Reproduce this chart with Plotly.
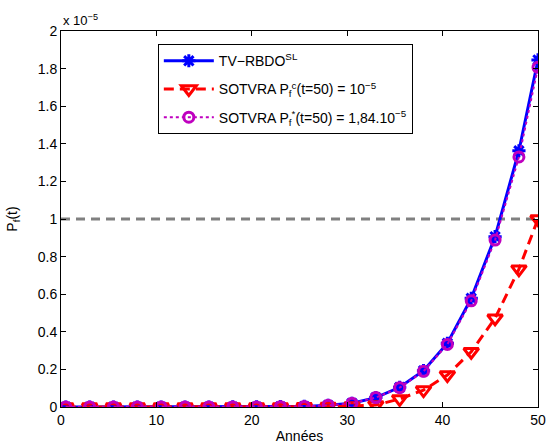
import plotly.graph_objects as go

years = [0.5, 3, 5.5, 8, 10.5, 13, 15.5, 18, 20.5, 23, 25.5, 28, 30.5, 33, 35.5, 38, 40.5, 43, 45.5, 48, 50]
# values in units of 1e-5
tv_rbdo = [0, 0, 0, 0, 0, 0, 0, 0.0002, 0.0006, 0.0015, 0.003, 0.009, 0.02, 0.05, 0.105, 0.193, 0.339, 0.578, 0.906, 1.363, 1.846]
sotvra_c = [0, 0, 0, 0, 0, 0, 0, 0, 0, 0.0003, 0.0008, 0.002, 0.005, 0.01, 0.043, 0.09, 0.17, 0.294, 0.472, 0.733, 1.0]
sotvra_s = [0, 0, 0, 0, 0, 0, 0, 0.0002, 0.0006, 0.0015, 0.003, 0.009, 0.02, 0.05, 0.103, 0.19, 0.333, 0.565, 0.888, 1.33, 1.807]
ref_x = [0, 50]
ref_y = [1, 1]

xticks = [0, 10, 20, 30, 40, 50]
yticks = [0, 0.2, 0.4, 0.6, 0.8, 1, 1.2, 1.4, 1.6, 1.8, 2]
yticklabels = ["0", "0.2", "0.4", "0.6", "0.8", "1", "1.2", "1.4", "1.6", "1.8", "2"]

font = "Liberation Sans, Arial, sans-serif"
fig = go.Figure()

fig.add_trace(go.Scatter(x=ref_x, y=ref_y, mode="lines", showlegend=False,
                         line=dict(color="rgb(128,128,128)", width=3, dash="9px,6px")))
fig.add_trace(go.Scatter(x=years, y=tv_rbdo, mode="lines+markers", name="TV\u2212RBDO<sup>SL</sup>",
                         legendgroup="a",
                         line=dict(color="rgb(0,0,255)", width=3),
                         marker=dict(symbol="asterisk-open", size=11, color="rgb(0,0,255)",
                                     line=dict(color="rgb(0,0,255)", width=3))))
fig.add_trace(go.Scatter(x=years, y=sotvra_c, mode="lines+markers",
                         name="SOTVRA P<sub>f</sub><sup>c</sup>(t=50) = 10<sup>\u22125</sup>",
                         legendgroup="b",
                         line=dict(color="rgb(255,0,0)", width=3, dash="10px,6px"),
                         marker=dict(symbol="triangle-down-open", size=13, color="rgb(255,0,0)",
                                     line=dict(color="rgb(255,0,0)", width=3))))
fig.add_trace(go.Scatter(x=years, y=sotvra_s, mode="lines+markers",
                         name="SOTVRA P<sub>f</sub><sup>*</sup>(t=50) = 1,84.10<sup>\u22125</sup>",
                         legendgroup="c",
                         line=dict(color="rgb(191,0,191)", width=2, dash="dot"),
                         marker=dict(symbol="circle-open", size=10, color="rgb(191,0,191)",
                                     line=dict(color="rgb(191,0,191)", width=3))))

axis_common = dict(showline=True, linecolor="black", linewidth=1, mirror="allticks",
                   ticks="inside", ticklen=5, tickcolor="black", showgrid=False, zeroline=False,
                   tickfont=dict(family=font, size=14, color="black"))

fig.update_layout(
    width=546, height=446,
    margin=dict(l=61, r=8, t=31, b=39, autoexpand=False),
    paper_bgcolor="white", plot_bgcolor="white",
    font=dict(family=font, size=13, color="black"),
    xaxis=dict(range=[0, 50], tickvals=xticks, **axis_common,
               title=dict(text="Années", font=dict(family=font, size=14), standoff=4)),
    yaxis=dict(range=[0, 2], tickvals=yticks, ticktext=yticklabels, **axis_common,
               title=dict(text="P<sub>f</sub>(t)", font=dict(family=font, size=14), standoff=16)),
    legend=dict(x=0.203, y=0.965, xanchor="left", yanchor="top",
                bordercolor="black", borderwidth=1, bgcolor="white", itemwidth=50,
                font=dict(family=font, size=14), tracegroupgap=7),
    annotations=[dict(x=0, y=1, xref="paper", yref="paper", xanchor="left", yanchor="bottom",
                      text="x 10<sup>\u22125</sup>", showarrow=False, yshift=1,
                      font=dict(family=font, size=13))],
)

fig.write_html("out.html", config={"displayModeBar": False},
               post_script="document.body.style.margin='0';document.documentElement.style.overflow='hidden';")
